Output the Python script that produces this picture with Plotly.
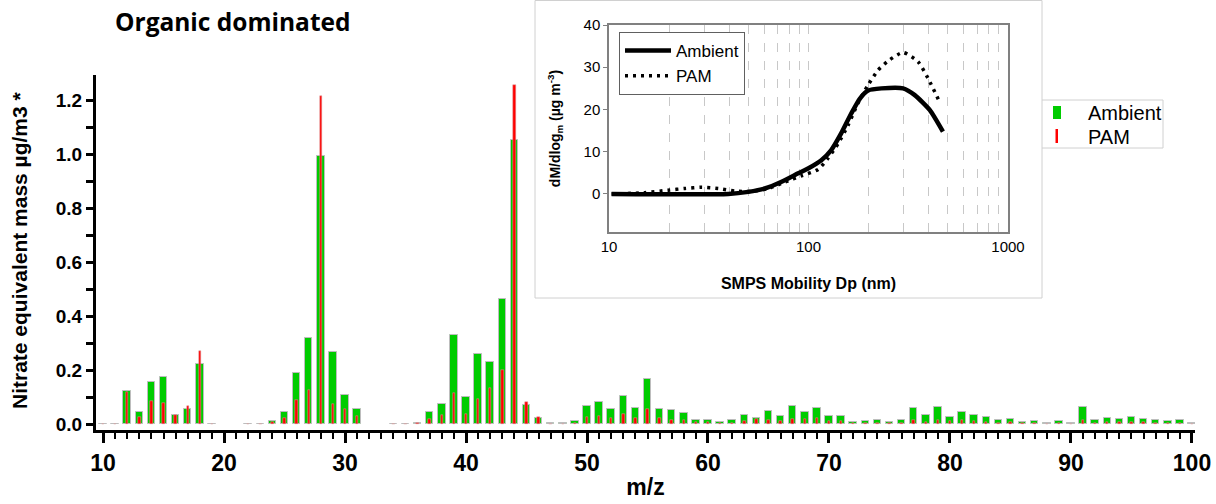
import plotly.graph_objects as go

# ---------------- data ----------------
mz = list(range(10, 101))
ambient = [0.002, 0.002, 0.124, 0.045, 0.156, 0.177, 0.035, 0.057, 0.224, 0.002,
           None, None, 0.003, 0.003, 0.013, 0.045, 0.19, 0.319, 0.994, 0.27,
           0.109, 0.057, None, None, 0.002, 0.002, 0.007, 0.047, 0.077, 0.33,
           0.1, 0.261, 0.233, 0.466, 1.053, 0.071, 0.024, 0.004, 0.004, 0.012,
           0.067, 0.085, 0.057, 0.105, 0.06, 0.168, 0.057, 0.052, 0.043, 0.018,
           0.016, 0.011, 0.017, 0.035, 0.024, 0.05, 0.033, 0.067, 0.047, 0.061,
           0.033, 0.033, 0.011, 0.012, 0.016, 0.011, 0.016, 0.06, 0.034, 0.064,
           0.027, 0.045, 0.034, 0.027, 0.017, 0.02, 0.009, 0.013, 0.005, 0.013,
           0.004, 0.064, 0.018, 0.024, 0.02, 0.028, 0.02, 0.018, 0.013, 0.016,
           0.005]
pam = [0.001, 0.001, 0.12, 0.027, 0.087, 0.078, 0.035, 0.07, 0.273, 0.001,
       None, None, 0.002, 0.002, 0.008, 0.025, 0.091, 0.128, 1.218, 0.075,
       0.058, 0.03, None, None, 0.001, 0.001, 0.004, 0.02, 0.034, 0.118,
       0.04, 0.093, 0.135, 0.2, 1.257, 0.084, 0.029, 0.002, 0.002, 0.005,
       0.026, 0.031, 0.025, 0.039, 0.025, 0.058, 0.025, 0.018, 0.017, 0.008,
       0.008, 0.004, 0.005, 0.012, 0.02, 0.016, 0.012, 0.019, 0.02, 0.025,
       0.012, 0.014, 0.004, 0.004, 0.005, 0.004, 0.007, 0.017, 0.01, 0.017,
       0.012, 0.016, 0.012, 0.01, 0.007, 0.009, 0.004, 0.005, 0.002, 0.005,
       0.003, 0.017, 0.007, 0.008, 0.008, 0.01, 0.008, 0.007, 0.005, 0.006,
       0.003]

# inset: SMPS mass size distributions
dp_ambient = [10.3, 39.6, 49.9, 60.4, 73.3, 88.8, 100, 116, 130, 146, 164, 181,
              199, 232, 298, 341, 405, 472]
dm_ambient = [0, 0, 0.5, 1.3, 2.9, 4.9, 6.1, 8.0, 10.4, 14.4, 19.1, 22.6,
              24.5, 25.0, 25.0, 23.4, 19.9, 14.75]
dp_pam = [10.3, 15.1, 19.8, 24.0, 29.1, 35.3, 42.8, 51.9, 62.8, 76.1, 92.2,
          111.7, 125, 141, 158, 177, 199, 223, 251, 298, 354, 397, 455]
dm_pam = [0, 0.3, 0.9, 1.3, 1.6, 1.3, 0.7, 0.6, 1.3, 2.8, 4.3, 5.8, 8.4,
          12.0, 16.3, 21.5, 25.8, 29.3, 31.5, 33.5, 31.3, 27.4, 21.7]

inset_major = [10, 100, 1000]
inset_minor = [20, 30, 40, 50, 60, 70, 80, 90, 200, 300, 400, 500, 600, 700, 800, 900]

# ---------------- geometry helpers (pixel -> paper) ----------------
W, H = 1216, 504
ML, MR, MT, MB = 96, 21, 0, 74
PW, PH = W - ML - MR, H - MT - MB


def px(x):
    return (x - ML) / PW


def py(y):
    return (H - MB - y) / PH


GREEN = "#00cc00"
RED = "#ff0000"

fig = go.Figure()
fig.add_trace(go.Bar(x=mz, y=ambient, width=0.62, name="Ambient",
                     marker=dict(color=GREEN, line=dict(color="#bdbdbd", width=1)),
                     showlegend=False, xaxis="x", yaxis="y"))
fig.add_trace(go.Bar(x=mz, y=pam, width=0.2, name="PAM",
                     marker=dict(color=RED, line=dict(color="#d8a0a0", width=0.5)),
                     showlegend=False, xaxis="x", yaxis="y"))

fig.add_trace(go.Scatter(x=dp_ambient, y=dm_ambient, mode="lines", name="Ambient",
                         line=dict(color="black", width=4.5, shape="spline", smoothing=0.6),
                         xaxis="x2", yaxis="y2", legend="legend2"))
fig.add_trace(go.Scatter(x=dp_pam, y=dm_pam, mode="lines", name="PAM",
                         line=dict(color="black", width=3.5, dash="3px,5px",
                                   shape="spline", smoothing=0.6),
                         xaxis="x2", yaxis="y2", legend="legend2"))

main_dom_top = py(75)

fig.update_layout(
    width=W, height=H,
    margin=dict(l=ML, r=MR, t=MT, b=MB, autoexpand=False),
    paper_bgcolor="white", plot_bgcolor="white",
    barmode="overlay", bargap=0,
    font=dict(family="Liberation Sans, Arial, sans-serif", color="black"),
    xaxis=dict(
        domain=[0, 1], range=[9.42, 100.25], anchor="y", automargin=False,
        showline=True, linecolor="black", linewidth=3,
        showgrid=False, zeroline=False,
        tickmode="array", tickvals=[10, 20, 30, 40, 50, 60, 70, 80, 90, 100],
        ticks="outside", ticklen=10, tickwidth=2.5, tickcolor="black",
        tickfont=dict(family="Liberation Sans Narrow, Liberation Sans, Arial", size=23,
                      weight="bold"),
        minor=dict(dtick=1, tick0=0, ticks="outside", ticklen=6, tickwidth=2,
                   tickcolor="black", showgrid=False),
        title=dict(text="m/z", standoff=5,
                   font=dict(family="Liberation Sans Narrow, Liberation Sans, Arial",
                             size=23, weight="bold")),
    ),
    yaxis=dict(
        domain=[0, main_dom_top], range=[-0.0204, 1.2944], anchor="x", automargin=False,
        showline=True, linecolor="black", linewidth=3,
        showgrid=False, zeroline=False,
        tickmode="array", tickvals=[0, 0.2, 0.4, 0.6, 0.8, 1.0, 1.2],
        ticktext=["0.0", "0.2", "0.4", "0.6", "0.8", "1.0", "1.2"],
        ticks="outside", ticklen=7, tickwidth=2.5, tickcolor="black",
        tickfont=dict(size=19, weight="bold"),
        minor=dict(tickvals=[0.1, 0.3, 0.5, 0.7, 0.9, 1.1], ticks="outside",
                   ticklen=7, tickwidth=2.5, tickcolor="black", showgrid=False),
    ),
    xaxis2=dict(
        domain=[px(609), px(1008)], type="log", range=[1, 3], anchor="y2",
        automargin=False,
        showline=True, linecolor="#808080", linewidth=1.5, mirror=True,
        tickmode="array", tickvals=inset_major,
        ticks="", showgrid=True, gridcolor="#c8c8c8", griddash="dash", gridwidth=1,
        minor=dict(tickvals=inset_minor, showgrid=True, gridcolor="#c8c8c8",
                   griddash="dash", gridwidth=1, ticks=""),
        zeroline=False,
        tickfont=dict(size=15),
        title=dict(text="SMPS Mobility Dp (nm)", standoff=24,
                   font=dict(size=16, weight="bold")),
    ),
    yaxis2=dict(
        domain=[py(232), py(25)], range=[-9, 40], anchor="x2", automargin=False,
        showline=True, linecolor="#808080", linewidth=1.5, mirror=True,
        tickmode="array", tickvals=[0, 10, 20, 30, 40],
        ticks="outside", ticklen=4, tickcolor="#808080",
        showgrid=False, zeroline=False,
        tickfont=dict(size=15),
        title=dict(text="dM/dlog<sub>m</sub> (µg m<sup>-3</sup>)", standoff=20,
                   font=dict(size=14, weight="bold")),
    ),
    legend2=dict(
        x=px(619), y=py(32), xanchor="left", yanchor="top",
        bgcolor="white", bordercolor="#606060", borderwidth=1,
        font=dict(size=17), tracegroupgap=0, itemwidth=46,
    ),
    shapes=[
        # inset frame
        dict(type="rect", xref="paper", yref="paper", layer="below",
             x0=px(535), x1=px(1042), y0=py(298), y1=py(0.5),
             line=dict(color="#d0d0d0", width=1), fillcolor="white"),
        # legend frame for bars
        dict(type="path", xref="paper", yref="paper",
             path=f"M {px(1042)},{py(100)} L {px(1163)},{py(100)} L {px(1163)},{py(148)} L {px(1042)},{py(148)}",
             line=dict(color="#d0d0d0", width=1)),
        dict(type="rect", xref="paper", yref="paper",
             x0=px(1053), x1=px(1061), y0=py(119), y1=py(106),
             line=dict(width=0), fillcolor=GREEN),
        dict(type="rect", xref="paper", yref="paper",
             x0=px(1055.5), x1=px(1058), y0=py(143), y1=py(129),
             line=dict(width=0), fillcolor=RED),
    ],
    annotations=[
        dict(text="<b>Organic dominated</b>", xref="paper", yref="paper",
             x=px(113), y=py(22), xanchor="left", yanchor="middle", showarrow=False,
             font=dict(family="Open Sans, Liberation Sans, Arial", size=24.5)),
        dict(text="<b>Nitrate equivalent mass µg/m3 *</b>", xref="paper", yref="paper",
             x=px(20), y=py(250), xanchor="center", yanchor="middle", showarrow=False,
             textangle=-90, font=dict(size=21)),
        dict(text="Ambient", xref="paper", yref="paper",
             x=px(1086), y=py(113), xanchor="left", yanchor="middle", showarrow=False,
             font=dict(size=20)),
        dict(text="PAM", xref="paper", yref="paper",
             x=px(1086), y=py(137), xanchor="left", yanchor="middle", showarrow=False,
             font=dict(size=20)),
    ],
)

fig.write_html("out.html", config={"displayModeBar": False})

# remove the default page margin so the figure sits at the window's top-left
with open("out.html", "r", encoding="utf-8") as f:
    html = f.read()
html = html.replace("<head>", "<head><style>html,body{margin:0;padding:0;overflow:hidden;}</style>", 1)
with open("out.html", "w", encoding="utf-8") as f:
    f.write(html)
